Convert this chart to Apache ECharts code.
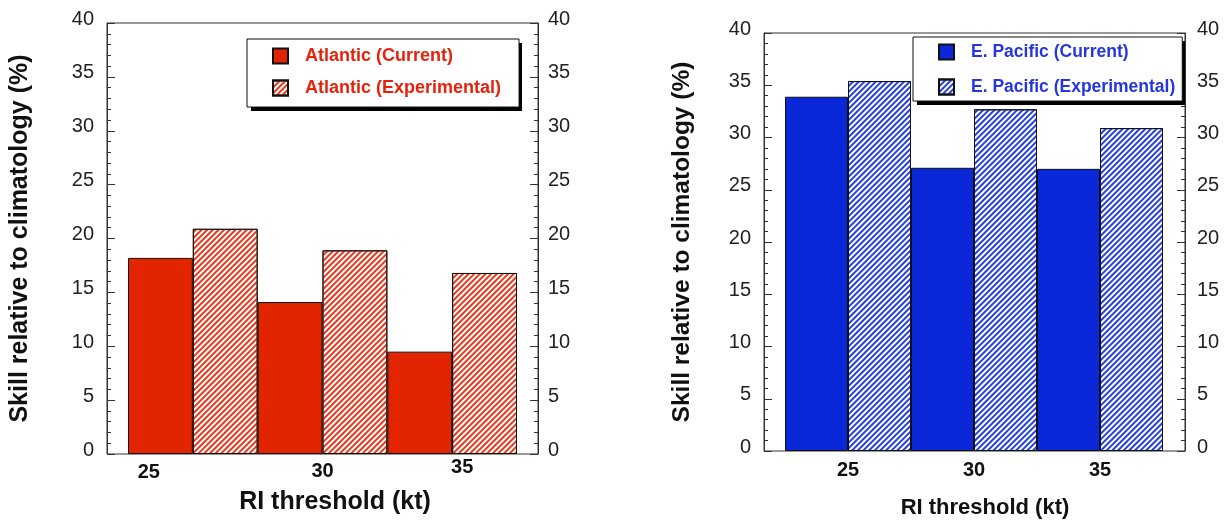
<!DOCTYPE html>
<html><head><meta charset="utf-8">
<script src="https://cdn.jsdelivr.net/npm/echarts@6/dist/echarts.min.js"></script>
<style>html,body{margin:0;padding:0;background:#fff}#c{width:1231px;height:525px}</style>
</head><body><div id="c"></div>
<script>
// ---- data ----
const categories = ['25', '30', '35'];
const atlanticCurrent = [18.2, 14.1, 9.5];
const atlanticExperimental = [20.9, 18.9, 16.8];
const pacificCurrent = [33.9, 27.1, 27.0];
const pacificExperimental = [35.4, 32.7, 30.9];
const seriesNames = ['Atlantic (Current)', 'Atlantic (Experimental)', 'E. Pacific (Current)', 'E. Pacific (Experimental)'];
const yAxisTitle = 'Skill relative to climatology (%)';
const xAxisTitle = 'RI threshold (kt)';

// ---- styles ----
const FONT = '"Liberation Sans", Arial, Helvetica, sans-serif';
const RED = '#e32400', BLUE = '#0a27d8';
function hatchDecal(color) {
  return { symbol: 'rect', symbolSize: 1, color: color, dashArrayX: [1, 0], dashArrayY: [1.1, 1.8], rotation: -Math.PI / 4 };
}

function boxY(grid, pos, margin, name, nameGap, nameSize) {
  return {
    gridIndex: grid, type: 'value', min: 0, max: 40, interval: 5, position: pos,
    axisLine: { show: true, lineStyle: { color: '#333', width: 1 } },
    axisTick: { show: true, inside: true, length: 8, lineStyle: { color: '#333' } },
    minorTick: { show: true, splitNumber: 5, length: 4, lineStyle: { color: '#333' } },
    splitLine: { show: false }, minorSplitLine: { show: false },
    axisLabel: { fontSize: 20, color: '#222', fontFamily: FONT, margin: margin, verticalAlign: 'bottom', lineHeight: 8 },
    name: name || '', nameLocation: 'middle', nameGap: nameGap || 0,
    nameTextStyle: { fontSize: nameSize || 25, fontWeight: 'bold', color: '#111', fontFamily: FONT, lineHeight: 25 }
  };
}
function hiddenY(grid) { return { gridIndex: grid, type: 'value', min: 0, max: 40, show: false }; }
function catX(grid, nameGap, nameSize, namePadLeft, rich, fmt) {
  return {
    gridIndex: grid, type: 'category', data: categories, position: 'bottom',
    axisLine: { show: false }, axisTick: { show: false },
    axisLabel: { fontSize: 20, fontWeight: 'bold', color: '#111', fontFamily: FONT, margin: 3,
      formatter: fmt, rich: rich },
    name: xAxisTitle, nameLocation: 'middle', nameGap: nameGap,
    nameTextStyle: { fontSize: nameSize, fontWeight: 'bold', color: '#111', fontFamily: FONT, padding: [0, 0, 0, namePadLeft] }
  };
}
function tickX(grid) {
  return {
    gridIndex: grid, type: 'value', min: 0, max: 6, position: 'bottom',
    axisLine: { show: false }, axisLabel: { show: false }, splitLine: { show: false },
    axisTick: { show: true, inside: true, length: 5, lineStyle: { color: '#333' },
      customValues: [1/3, 5/3, 7/3, 11/3, 13/3, 17/3] }
  };
}
const richBase = { fontSize: 20, fontWeight: 'bold', color: '#111', fontFamily: FONT };
const leftRich = {
  a: Object.assign({ padding: [5, 88, 0, 0] }, richBase),
  b: Object.assign({ padding: [4, 0, 0, 0] }, richBase),
  c: Object.assign({ padding: [0, 0, 0, 20] }, richBase)
};
const rightRich = { b: Object.assign({ padding: [6, 0, 0, 0] }, richBase) };
const leftStyleKeys = ['a', 'b', 'c'];

function barSeries(name, xi, yi, data, color, decal) {
  const itemStyle = { color: color, borderColor: '#111', borderWidth: 1 };
  if (decal) itemStyle.decal = decal;
  return {
    name: name, type: 'bar', xAxisIndex: xi, yAxisIndex: yi, data: data,
    barGap: '0%', barCategoryGap: '0%',
    itemStyle: itemStyle,
    emphasis: { disabled: true }
  };
}
function legend(names, left, top, padding, color, fontSize, gap) {
  return {
    data: names, orient: 'vertical', left: left, top: top, padding: padding,
    itemWidth: 15, itemHeight: 15, itemGap: gap, icon: 'rect', z: 6,
    backgroundColor: '#fff', borderColor: '#111', borderWidth: 1,
    selectedMode: false,
    textStyle: { color: color, fontSize: fontSize, fontWeight: 'bold', fontFamily: FONT, padding: [0, 0, 0, 12] }
  };
}
// drop shadows behind the legend boxes
function shadow(x, y, w, h) {
  return { type: 'rect', left: x, top: y, z: 5, shape: { width: w, height: h }, style: { fill: '#000' } };
}

const chart = echarts.init(document.getElementById('c'), null, { renderer: 'canvas' });
chart.setOption({
  animation: false,
  backgroundColor: '#fff',
  grid: [
    { left: 107, top: 23, width: 431, height: 431, show: true, borderColor: '#333', borderWidth: 1, backgroundColor: 'transparent' },
    { left: 128, top: 23, width: 389, height: 431 },
    { left: 764, top: 33, width: 421, height: 418, show: true, borderColor: '#333', borderWidth: 1, backgroundColor: 'transparent' },
    { left: 785, top: 33, width: 378, height: 418 }
  ],
  xAxis: [
    { gridIndex: 0, type: 'value', show: false, min: 0, max: 1 },
    catX(1, 36, 25, 25, leftRich, function (v, i) { return '{' + leftStyleKeys[i] + '|' + v + '}'; }),
    tickX(1),
    { gridIndex: 2, type: 'value', show: false, min: 0, max: 1 },
    catX(3, 46, 22, 22, rightRich, function (v) { return '{b|' + v + '}'; }),
    tickX(3)
  ],
  yAxis: [
    boxY(0, 'left', 13, yAxisTitle, 74, 25),
    boxY(0, 'right', 10),
    hiddenY(1),
    boxY(2, 'left', 13, yAxisTitle, 69, 24.5),
    boxY(2, 'right', 12),
    hiddenY(3)
  ],
  legend: [
    legend([seriesNames[0], seriesNames[1]], 247, 39, [8, 18, 10, 25], '#e8210b', 18, 14),
    legend([seriesNames[2], seriesNames[3]], 913, 37, [6, 7, 5, 25], '#2436dc', 17.5, 17)
  ],
  graphic: [
    shadow(251, 43, 271, 68),
    shadow(917, 41, 268, 64)
  ],
  series: [
    barSeries(seriesNames[0], 1, 2, atlanticCurrent, RED),
    barSeries(seriesNames[1], 1, 2, atlanticExperimental, '#ffffff', hatchDecal('#e8381c')),
    barSeries(seriesNames[2], 4, 5, pacificCurrent, BLUE),
    barSeries(seriesNames[3], 4, 5, pacificExperimental, '#ffffff', hatchDecal('#2640dc'))
  ]
});
</script></body></html>
